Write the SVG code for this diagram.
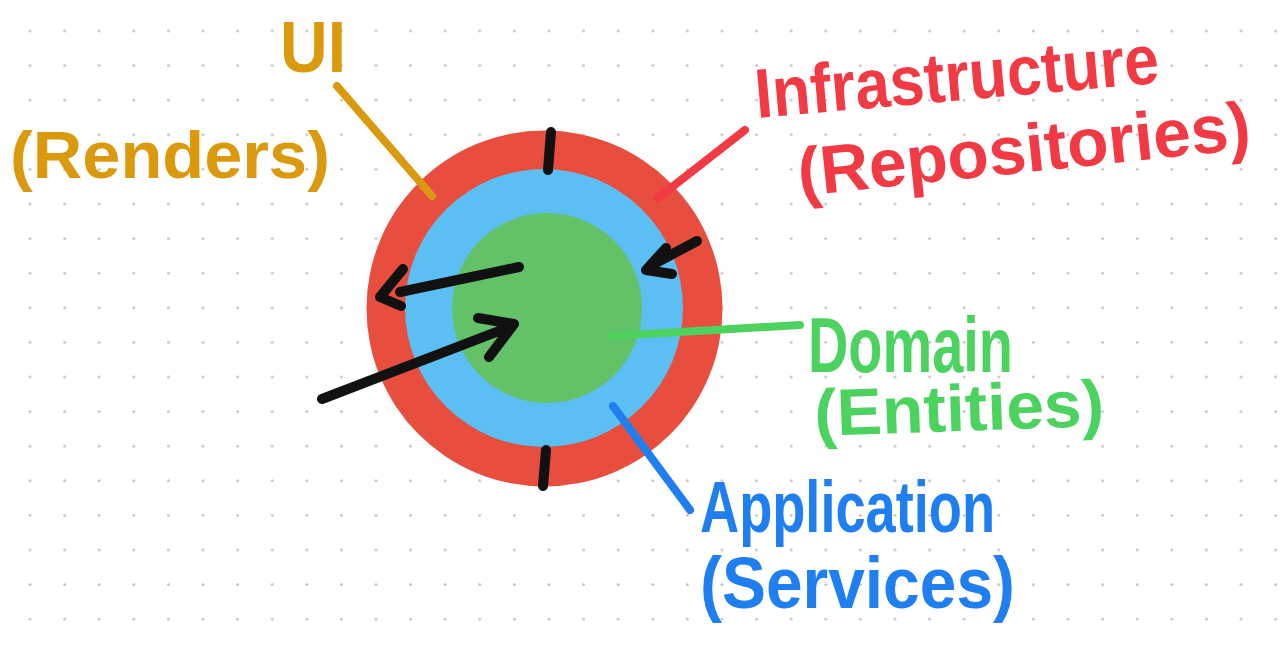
<svg xmlns="http://www.w3.org/2000/svg" width="1280" height="645" viewBox="0 0 1280 645">
  <defs>
    <pattern id="dots" x="12.7" y="13.7" width="34.6" height="34.6" patternUnits="userSpaceOnUse">
      <circle cx="17.3" cy="17.3" r="1.3" fill="#b8b8b8"/>
    </pattern>
  </defs>
  <style>
    .lbl { font-family: "Liberation Sans", "Noto Sans", sans-serif; font-weight: bold; }
    .ui { fill: #DB9A0E; }
    .infra { fill: #F23A45; }
    .dom { fill: #4CD35F; }
    .app { fill: #1F7EF0; }
    .ln { fill: none; stroke-width: 8; stroke-linecap: round; stroke-linejoin: round; }
    .blk { fill: none; stroke: #111; stroke-width: 10; stroke-linecap: round; stroke-linejoin: round; }
  </style>
  <rect width="1280" height="645" fill="#ffffff"/>
  <rect width="1280" height="645" fill="url(#dots)"/>

  <g id="layers">
    <circle id="infrastructure-ring" cx="544.5" cy="308.5" r="178" fill="#E84E3E"/>
    <circle id="application-ring" cx="544" cy="308" r="139" fill="#5BBFF3"/>
    <circle id="domain-core" cx="547" cy="308" r="95" fill="#63C167"/>
  </g>

  <g id="connectors">
    <path class="ln" stroke="#DB9A0E" d="M337 86 L432 196"/>
    <path class="ln" stroke="#F23A45" d="M745 130 L658 198"/>
    <path class="ln" stroke="#4CD35F" d="M612 336 L800 325"/>
    <path class="ln" stroke="#1F7EF0" d="M613 406 L690 510"/>
    <path class="blk" d="M551 132 L548 170"/>
    <path class="blk" d="M546 450 L543 486"/>
    <path class="blk" d="M519 267 L400 292 M403 269 L380 297 L401 306"/>
    <path class="blk" d="M322 399 L512 326 M478 318 L514 324 L489 357"/>
    <path class="blk" d="M697 241 L652 265 M666 248 L646 270 L672 274"/>
  </g>

  <g id="ui-label">
    <text class="lbl ui" x="280" y="72" font-size="72" textLength="66" lengthAdjust="spacingAndGlyphs">UI</text>
    <text class="lbl ui" x="10" y="178" font-size="66" textLength="320" lengthAdjust="spacingAndGlyphs">(Renders)</text>
  </g>

  <g id="infrastructure-label">
    <text class="lbl infra" x="757" y="118" font-size="70" textLength="405" lengthAdjust="spacingAndGlyphs" transform="rotate(-5 757 118)">Infrastructure</text>
    <text class="lbl infra" x="800" y="196" font-size="68" textLength="455" lengthAdjust="spacingAndGlyphs" transform="rotate(-6 800 196)">(Repositories)</text>
  </g>

  <g id="domain-label">
    <text class="lbl dom" x="808" y="372" font-size="78" textLength="205" lengthAdjust="spacingAndGlyphs">Domain</text>
    <text class="lbl dom" x="815" y="436" font-size="66" textLength="290" lengthAdjust="spacingAndGlyphs" transform="rotate(-2 815 436)">(Entities)</text>
  </g>

  <g id="application-label">
    <text class="lbl app" x="700" y="532" font-size="72" textLength="295" lengthAdjust="spacingAndGlyphs">Application</text>
    <text class="lbl app" x="700" y="608" font-size="72" textLength="315" lengthAdjust="spacingAndGlyphs">(Services)</text>
  </g>
</svg>
